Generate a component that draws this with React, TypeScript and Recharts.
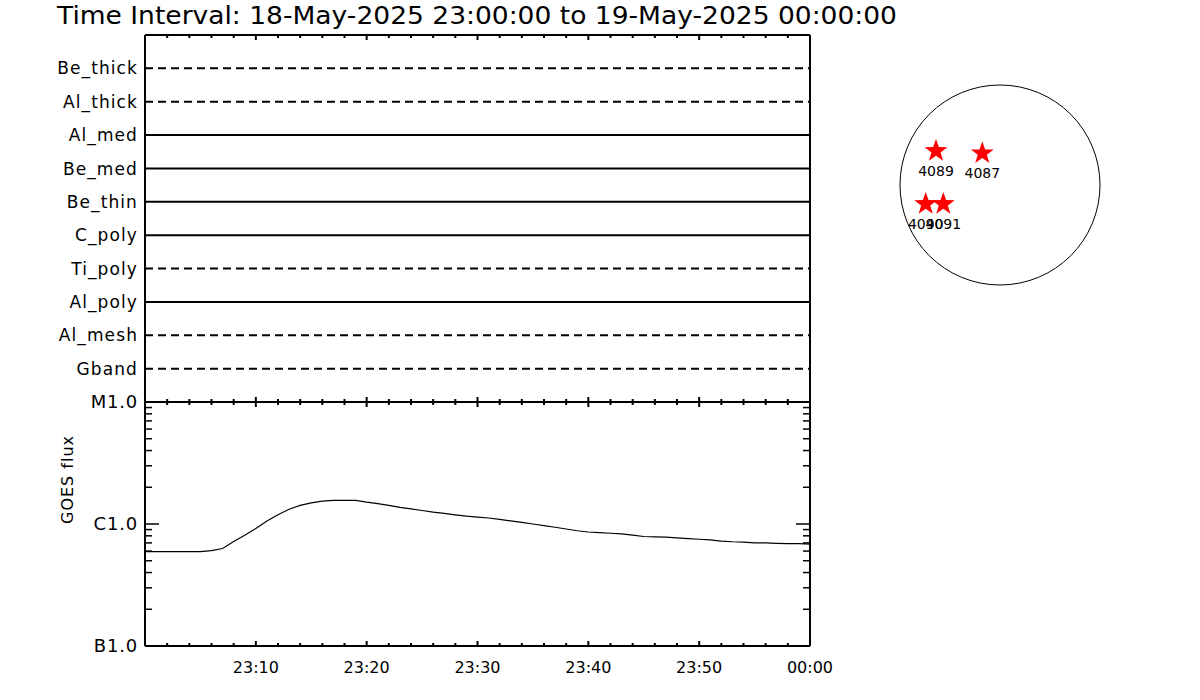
import { LineChart, Line, XAxis, YAxis, ScatterChart, Scatter, ReferenceDot } from "recharts"

// filter channels, bottom to top
const filters = ["Gband", "Al_mesh", "Al_poly", "Ti_poly", "C_poly", "Be_thin", "Be_med", "Al_med", "Al_thick", "Be_thick"]
const filterDashed = [true, true, false, true, false, false, false, false, true, true]

// minutes after 23:00
const minutes = [
  0, 1, 2, 3, 4, 5, 6, 7, 8, 9, 10, 11, 12, 13, 14, 15, 16, 17, 18, 19, 20,
  21, 22, 23, 24, 25, 26, 27, 28, 29, 30, 31, 32, 33, 34, 35, 36, 37, 38, 39, 40,
  41, 42, 43, 44, 45, 46, 47, 48, 49, 50, 51, 52, 53, 54, 55, 56, 57, 58, 59, 60,
]
// GOES 1-8 A flux, W/m^2
const goesFlux = [
  5.93e-7, 5.93e-7, 5.93e-7, 5.93e-7, 5.93e-7, 5.93e-7, 6.05e-7, 6.3e-7, 7.2e-7, 8.1e-7, 9.2e-7,
  1.06e-6, 1.19e-6, 1.32e-6, 1.42e-6, 1.49e-6, 1.54e-6, 1.56e-6, 1.56e-6, 1.56e-6, 1.51e-6,
  1.47e-6, 1.42e-6, 1.37e-6, 1.33e-6, 1.29e-6, 1.25e-6, 1.22e-6, 1.19e-6, 1.16e-6, 1.14e-6,
  1.12e-6, 1.09e-6, 1.06e-6, 1.03e-6, 1.0e-6, 9.7e-7, 9.4e-7, 9.1e-7, 8.8e-7, 8.6e-7,
  8.5e-7, 8.4e-7, 8.3e-7, 8.1e-7, 7.9e-7, 7.85e-7, 7.8e-7, 7.7e-7, 7.6e-7, 7.5e-7,
  7.4e-7, 7.25e-7, 7.15e-7, 7.1e-7, 7.0e-7, 7.0e-7, 6.95e-7, 6.9e-7, 6.9e-7, 6.85e-7,
]

const timeTicks = [0, 2, 4, 6, 8, 10, 12, 14, 16, 18, 20, 22, 24, 26, 28, 30, 32, 34, 36, 38, 40, 42, 44, 46, 48, 50, 52, 54, 56, 58, 60]
const majorMinutes = [10, 20, 30, 40, 50, 60]
const majorLabels = ["23:10", "23:20", "23:30", "23:40", "23:50", "00:00"]

const fluxTicks = [
  1e-7, 2e-7, 3e-7, 4e-7, 5e-7, 6e-7, 7e-7, 8e-7, 9e-7,
  1e-6, 2e-6, 3e-6, 4e-6, 5e-6, 6e-6, 7e-6, 8e-6, 9e-6, 1e-5,
]
const fluxClassLabels = ["B1.0", "C1.0", "M1.0"]

// active regions on the disk (solar radii)
const arNumbers = ["4089", "4087", "4090", "4091"]
const arX = [-0.64, -0.177, -0.743, -0.567]
const arY = [0.34, 0.317, -0.19, -0.19]

const title = "Time Interval: 18-May-2025 23:00:00 to 19-May-2025 00:00:00"

const FONT = "'DejaVu Sans', sans-serif"
const AXIS = { stroke: "#000", strokeWidth: 2 }

const filterRows = [0, 60].map((t) => {
  const row: any = { t }
  filters.forEach((f, i) => (row[f] = i + 1))
  return row
})
const goesRows = minutes.map((t, i) => ({ t, flux: goesFlux[i] }))
const arRows = arNumbers.map((n, i) => ({ x: arX[i], y: arY[i], name: n }))

const timeTick = (dir: number, withLabel: boolean) => (props: any) => {
  const { x, y, payload } = props
  const major = majorMinutes.indexOf(payload.value)
  const len = major >= 0 ? 5 : 3
  return (
    <g>
      <line x1={x} x2={x} y1={y} y2={y + dir * len} stroke="#000" strokeWidth={2} />
      {withLabel && major >= 0 && (
        <text x={x} y={y + 27} textAnchor="middle" fontSize={16} fontFamily={FONT} fill="#000">
          {majorLabels[major]}
        </text>
      )}
    </g>
  )
}

const filterTick = (props: any) => {
  const { x, y, payload } = props
  const name = filters[payload.value - 1]
  if (!name) return <g />
  return (
    <text x={x - 7} y={y} dy="0.36em" textAnchor="end" fontSize={17} letterSpacing={1.1} fontFamily={FONT} fill="#000">
      {name}
    </text>
  )
}

const fluxTick = (dir: number, withLabel: boolean) => (props: any) => {
  const { x, y, payload } = props
  const lg = Math.log10(payload.value)
  const isMajor = Math.abs(lg - Math.round(lg)) < 1e-6
  const len = isMajor ? 14 : 7
  const cls = Math.round(lg) + 7
  return (
    <g>
      <line x1={x} x2={x + dir * len} y1={y} y2={y} stroke="#000" strokeWidth={1.5} />
      {withLabel && isMajor && (
        <text x={x - 7} y={y} dy="0.36em" textAnchor="end" fontSize={18} letterSpacing={0.8} fontFamily={FONT} fill="#000">
          {fluxClassLabels[cls]}
        </text>
      )}
    </g>
  )
}

const Star = (props: any) => {
  const { cx, cy, payload } = props
  const pts: string[] = []
  for (let k = 0; k < 10; k++) {
    const r = k % 2 === 0 ? 12 : 4.8
    const a = -Math.PI / 2 + (k * Math.PI) / 5
    pts.push(`${cx + r * Math.cos(a)},${cy + r * Math.sin(a)}`)
  }
  return (
    <g>
      <polygon points={pts.join(" ")} fill="#ff0000" />
      <text x={cx} y={cy + 25} textAnchor="middle" fontSize={14} fontFamily={FONT} fill="#000">
        {payload.name}
      </text>
    </g>
  )
}

const layer = { position: "absolute" as const, left: 0, top: 0 }

export default function App() {
  return (
    <div style={{ position: "absolute", left: 0, top: 0, width: 1200, height: 700, background: "#fff", overflow: "hidden" }}>
      <svg width={1200} height={40} style={layer}>
        <text x={57} y={24} fontSize={24} fontFamily={FONT} textLength={840} lengthAdjust="spacingAndGlyphs" fill="#000">
          {title}
        </text>
      </svg>

      {/* filter panel */}
      <div style={layer}>
        <LineChart width={1200} height={700} data={filterRows} margin={{ top: 25, left: 45, right: 380, bottom: 288 }}>
          <XAxis xAxisId="top" orientation="top" type="number" dataKey="t" domain={[0, 60]} ticks={timeTicks} interval={0}
            height={10} tickSize={0} tickMargin={0} tickLine={false} axisLine={AXIS} tick={timeTick(1, false)} />
          <XAxis xAxisId="bottom" type="number" dataKey="t" domain={[0, 60]} ticks={timeTicks} interval={0}
            height={10} tickSize={0} tickMargin={0} tickLine={false} axisLine={AXIS} tick={timeTick(-1, false)} />
          <YAxis yAxisId="left" type="number" domain={[0, 11]} ticks={[1, 2, 3, 4, 5, 6, 7, 8, 9, 10]} interval={0}
            width={100} tickSize={0} tickMargin={0} tickLine={false} axisLine={AXIS} tick={filterTick} />
          <YAxis yAxisId="right" orientation="right" type="number" domain={[0, 11]} width={10}
            tick={false} tickLine={false} axisLine={AXIS} />
          {filters.map((f, i) => (
            <Line key={f} xAxisId="bottom" yAxisId="left" dataKey={f} type="linear" stroke="#000" strokeWidth={2}
              strokeDasharray={filterDashed[i] ? "8 5" : undefined} dot={false} isAnimationActive={false} />
          ))}
        </LineChart>
      </div>

      {/* GOES panel */}
      <div style={layer}>
        <LineChart width={1200} height={700} data={goesRows} margin={{ top: 392, left: 45, right: 380, bottom: 44 }}>
          <XAxis xAxisId="top" orientation="top" type="number" dataKey="t" domain={[0, 60]} ticks={timeTicks} interval={0}
            height={10} tickSize={0} tickMargin={0} tickLine={false} axisLine={AXIS} tick={timeTick(1, false)} />
          <XAxis xAxisId="bottom" type="number" dataKey="t" domain={[0, 60]} ticks={timeTicks} interval={0}
            height={10} tickSize={0} tickMargin={0} tickLine={false} axisLine={AXIS} tick={timeTick(-1, true)} />
          <YAxis yAxisId="left" type="number" scale="log" domain={[1e-7, 1e-5]} allowDataOverflow ticks={fluxTicks} interval={0}
            width={100} tickSize={0} tickMargin={0} tickLine={false} axisLine={AXIS} tick={fluxTick(1, true)}
            label={{ value: "GOES flux", angle: -90, position: "insideLeft", offset: 0, dx: 22, fontSize: 16, fontFamily: FONT, fill: "#000", letterSpacing: 1 }} />
          <YAxis yAxisId="right" orientation="right" type="number" scale="log" domain={[1e-7, 1e-5]} allowDataOverflow ticks={fluxTicks} interval={0}
            width={10} tickSize={0} tickMargin={0} tickLine={false} axisLine={AXIS} tick={fluxTick(-1, false)} />
          <Line xAxisId="bottom" yAxisId="left" dataKey="flux" type="linear" stroke="#000" strokeWidth={1.2} dot={false} isAnimationActive={false} />
        </LineChart>
      </div>

      {/* solar disk */}
      <div style={{ position: "absolute", left: 880, top: 65 }}>
        <ScatterChart width={240} height={240} margin={{ top: 0, left: 0, right: 0, bottom: 0 }}>
          <XAxis type="number" dataKey="x" domain={[-1.2, 1.2]} hide />
          <YAxis type="number" dataKey="y" domain={[-1.2, 1.2]} hide />
          <ReferenceDot x={0} y={0} r={100} fill="none" stroke="#000" strokeWidth={1} />
          <Scatter data={arRows} shape={Star} isAnimationActive={false} />
        </ScatterChart>
      </div>
    </div>
  )
}
